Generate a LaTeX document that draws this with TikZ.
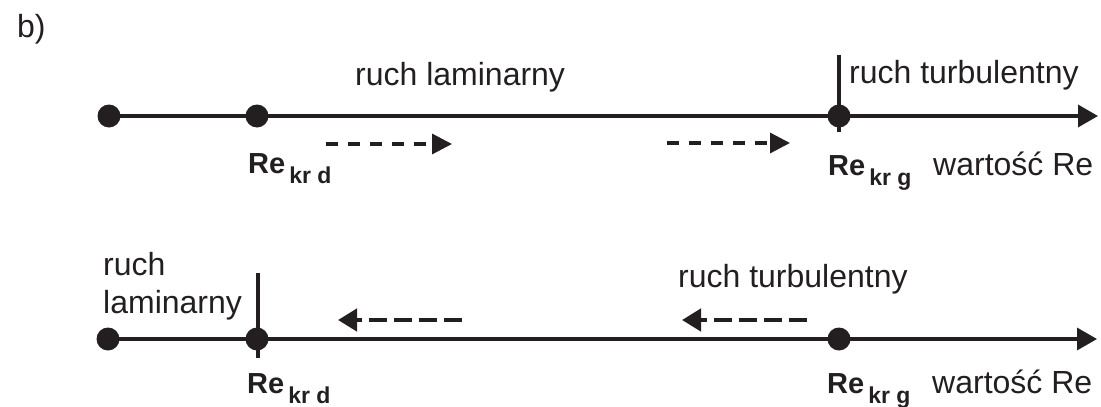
\documentclass[tikz,border=0pt]{standalone}
\usepackage{fontspec}
\setmainfont{Liberation Sans}
\usetikzlibrary{arrows.meta}
\definecolor{ink}{RGB}{35,31,32}
\tikzset{
  axis/.style={draw=ink, line width=3.5pt, -{Triangle[length=20pt,width=22pt]}},
  plainaxis/.style={draw=ink, line width=3.5pt},
  tickline/.style={draw=ink, line width=3.5pt},
  dot/.style={circle, fill=ink, inner sep=0pt, minimum size=23pt},
  fwd/.style={draw=ink, line width=3.3pt, dash pattern=on 12pt off 10pt,
    -{Triangle[length=20pt,width=20pt]}},
  back/.style={draw=ink, line width=4.5pt, dash pattern=on 18pt off 7pt,
    -{Triangle[length=19pt,width=22pt]}},
  lbl/.style={anchor=base west, inner sep=0pt, text=ink,
    font=\fontsize{32}{38}\selectfont},
}
\newcommand{\critRe}[1]{{\bfseries\fontsize{29}{29}\selectfont Re}\hspace{4pt}\raisebox{-10pt}{\bfseries\fontsize{23}{23}\selectfont #1}}
\begin{document}
\begin{tikzpicture}[x=1pt, y=-1pt]
\useasboundingbox (0,0) rectangle (1101,407);

\node[lbl] (label) at (17,37) {b)};

% upper axis: increasing Re
\node[dot] (t0) at (109,116) {};
\node[dot] (t1) at (257,116) {};
\node[dot] (t2) at (839,116) {};
\coordinate (te) at (1098,116);
\coordinate (t2up) at (839,55);
\coordinate (t2dn) at (839,132);
\draw[axis] (t0.center) -- (te);
\draw[tickline] (t2up) -- (t2dn);

\coordinate (fa1) at (326,144);
\coordinate (fa2) at (452,144);
\coordinate (fb1) at (667,143);
\coordinate (fb2) at (790,143);
\draw[fwd] (fa1) -- (fa2);
\draw[fwd] (fb1) -- (fb2);

\node[lbl] (tlam) at (355,85) {ruch laminarny};
\node[lbl] (tturb) at (849,83) {ruch turbulentny};
\node[lbl] (tkrd) at (248,173) {\critRe{kr d}};
\node[lbl] (tkrg) at (828,175) {\critRe{kr g}};
\node[lbl] (tval) at (933,175) {wartość Re};

% lower axis: decreasing Re
\node[dot] (b0) at (108,339) {};
\node[dot] (b1) at (257,339) {};
\node[dot] (b2) at (839,339) {};
\coordinate (be) at (1097,339);
\coordinate (b1up) at (258,273);
\coordinate (b1dn) at (258,358);
\draw[axis] (b0.center) -- (be);
\draw[tickline] (b1up) -- (b1dn);

\coordinate (ba1) at (462,320);
\coordinate (ba2) at (338,320);
\coordinate (bb1) at (807,320);
\coordinate (bb2) at (682,320);
\draw[back] (ba1) -- (ba2);
\draw[back] (bb1) -- (bb2);

\node[lbl] (bruch) at (103,275) {ruch};
\node[lbl] (blam) at (103,313) {laminarny};
\node[lbl] (bturb) at (678,287) {ruch turbulentny};
\node[lbl] (bkrd) at (247,393) {\critRe{kr d}};
\node[lbl] (bkrg) at (827,393) {\critRe{kr g}};
\node[lbl] (bval) at (932,393) {wartość Re};
\end{tikzpicture}
\end{document}
